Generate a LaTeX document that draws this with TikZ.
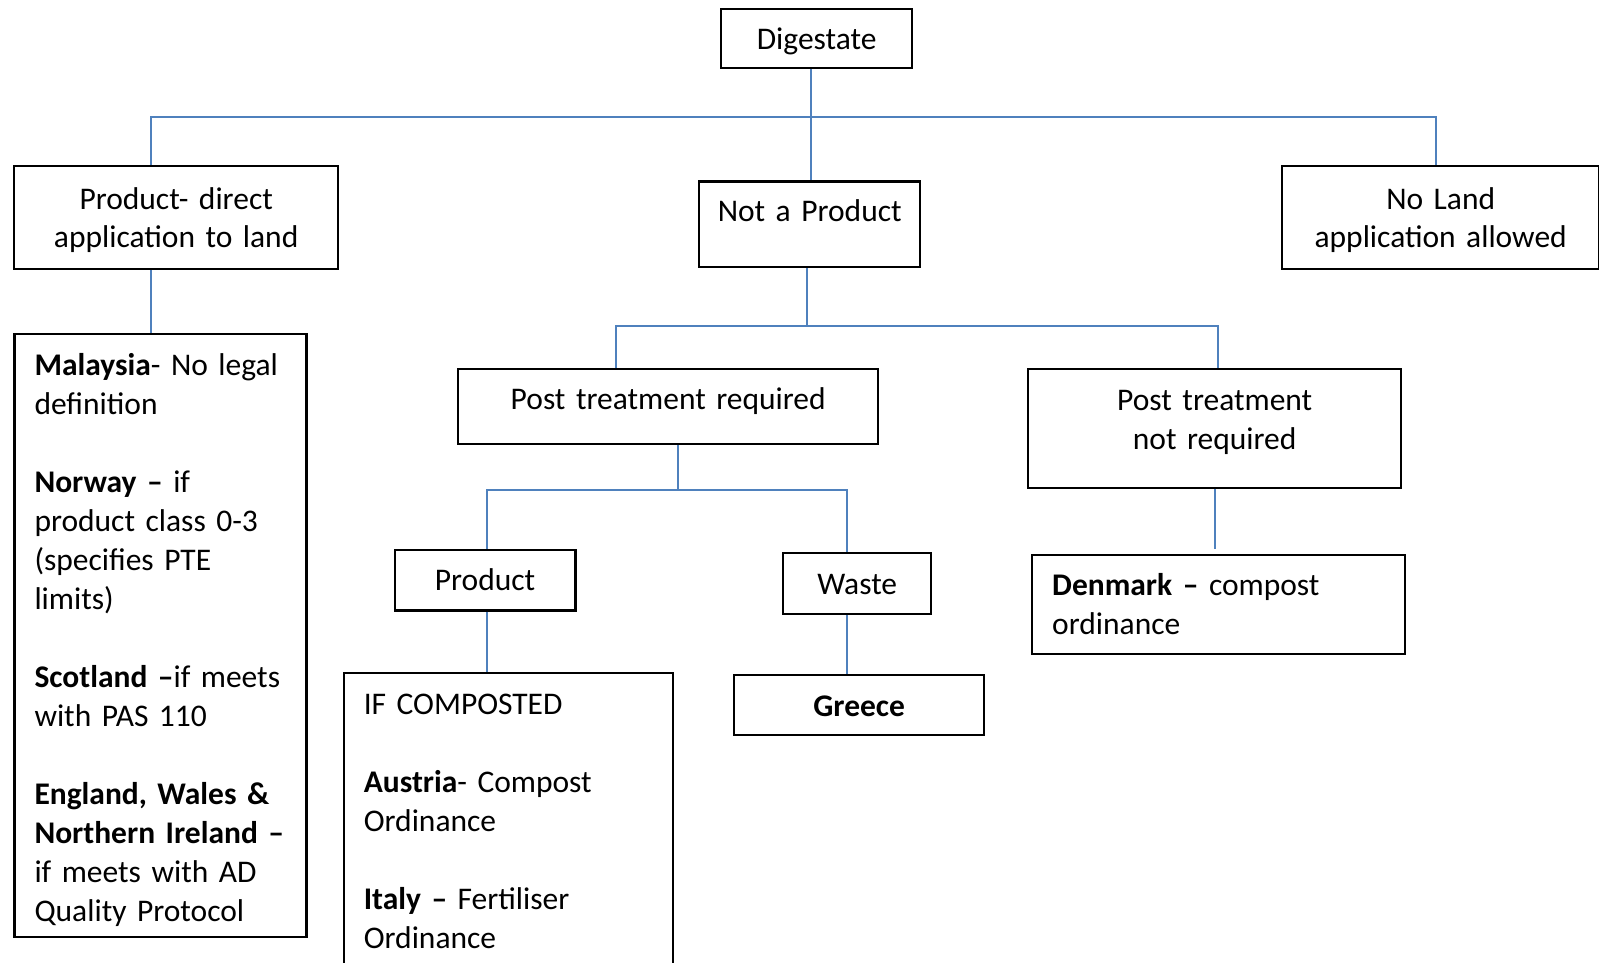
\documentclass[tikz,border=0pt]{standalone}
\usepackage{fontspec}
\setmainfont{Carlito}[WordSpace=0.9]
\definecolor{linkblue}{HTML}{4F81BD}
\newcommand{\boxfont}{\fontsize{31.5}{39}\selectfont}
\newcommand{\bstrut}{\rule[-8.7pt]{0pt}{39pt}}

\begin{document}
\begin{tikzpicture}[x=1pt, y=-1pt,
    box/.style={draw, line width=2.4pt, anchor=north west, font=\boxfont},
    cbox/.style={box, align=center, inner xsep=5pt, inner ysep=0pt,
      execute at begin node=\bstrut, execute at end node=\bstrut},
    lbox/.style={box, align=left, inner xsep=20pt, inner ysep=11pt,
      execute at begin node=\bstrut},
    link/.style={linkblue, line width=2pt}]
  \clip (0,0) rectangle (1599,963);
  \node[cbox, text width=181, minimum height=59] (dig) at (720,8) {Digestate};
  \node[cbox, text width=314, minimum height=103] (pdl) at (13,165) {Product- direct\\application to land};
  \node[cbox, text width=211, minimum height=85.5, text depth=36.7pt] (npr) at (698,180.5) {Not a Product};
  \node[cbox, text width=307, minimum height=103] (nol) at (1281,165) {No Land\\application allowed};
  \node[lbox, text width=252] (lst) at (13.3,332.5) {\textbf{Malaysia}- No legal\\definition\\[39pt]
    \textbf{Norway --} if\\product class 0-3\\(specifies PTE\\limits)\\[39pt]
    \textbf{Scotland --}if meets\\with PAS 110\\[39pt]
    \textbf{England, Wales \&}\\\textbf{Northern Ireland\nobreakspace--}\\if meets with AD\\Quality Protocol};
  \node[cbox, text width=410, minimum height=74.6, text depth=23.9pt] (ptr) at (457,368) {Post treatment required};
  \node[cbox, text width=363, minimum height=118.5, text depth=67.2pt] (ptnr) at (1027,368) {Post treatment\\not required};
  \node[cbox, text width=170.5, minimum height=60.5] (prd) at (393.6,548.6) {Product};
  \node[cbox, text width=138, minimum height=61.3] (wst) at (782,551.7) {Waste};
  \node[cbox, align=left, inner xsep=20pt, text width=333, minimum height=99] (dnk) at (1031,553.7) {\textbf{Denmark --} compost\\ordinance};
  \node[lbox, text width=289.4] (ifc) at (342.6,672) {IF COMPOSTED\\[39pt]
    \textbf{Austria}- Compost\\Ordinance\\[39pt]
    \textbf{Italy --} Fertiliser\\Ordinance\rule[-30pt]{0pt}{30pt}};
  \node[cbox, text width=240, minimum height=60] (grc) at (733,674) {\textbf{Greece}};

  \coordinate (s0) at (811,117);
  \coordinate (b1) at (151,117);
  \coordinate (b2) at (1436,117);
  \coordinate (m0) at (806.6,326);
  \coordinate (m1) at (616,326);
  \coordinate (m2) at (1217.6,326);
  \coordinate (p0) at (678,489.5);
  \coordinate (p1) at (486.5,489.5);
  \coordinate (p2) at (846.5,489.5);

  \draw[link] (dig.south -| s0) -- (npr.north -| s0);
  \draw[link] (pdl.north -| b1) -- (b1) -- (b2) -- (nol.north -| b2);
  \draw[link] (pdl.south -| b1) -- (lst.north -| b1);
  \draw[link] (npr.south -| m0) -- (m0);
  \draw[link] (ptr.north -| m1) -- (m1) -- (m2) -- (ptnr.north -| m2);
  \draw[link] (ptr.south -| p0) -- (p0);
  \draw[link] (prd.north -| p1) -- (p1) -- (p2) -- (wst.north -| p2);
  \draw[link] (prd.south -| p1) -- (ifc.north -| p1);
  \draw[link] (wst.south -| p2) -- (grc.north -| p2);
  \draw[link, shorten >=5pt] (ptnr.south) -- (ptnr.south |- dnk.north);
\end{tikzpicture}
\end{document}
